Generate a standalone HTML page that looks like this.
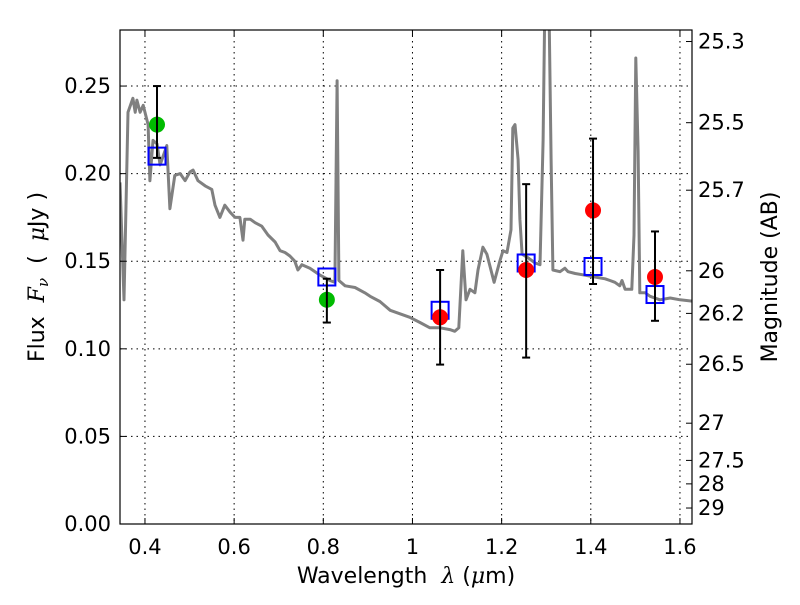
<!DOCTYPE html>
<html><head><meta charset="utf-8"><style>
body{margin:0;background:#fff}
svg text{font-family:"DejaVu Sans","Liberation Sans",sans-serif;fill:#000;white-space:pre}
</style></head><body>
<svg id="chart" width="800" height="600" xmlns="http://www.w3.org/2000/svg">
<rect width="800" height="600" fill="#fff"/>
<defs><clipPath id="clip"><rect x="120" y="30" width="572" height="494"/></clipPath></defs>
<g id="grid"></g>
<g id="spec" clip-path="url(#clip)"></g>
<g id="marks"></g>
<rect x="120" y="30" width="572" height="494" fill="none" stroke="#000" stroke-width="1.2"/>
<g id="axes"></g>
<text x="406" y="583" font-size="22" text-anchor="middle">Wavelength&#160;&#160;<tspan font-style="italic" font-family="DejaVu Serif, serif">λ</tspan> (<tspan font-style="italic" font-family="DejaVu Serif, serif">μ</tspan>m)</text>
<text transform="translate(44,277) rotate(-90)" font-size="22" text-anchor="middle">Flux&#160;&#160;<tspan font-style="italic" font-family="DejaVu Serif, serif">F<tspan font-size="15" dy="4">ν</tspan></tspan><tspan dy="-4">&#160;&#160;(&#160;&#160;</tspan><tspan font-style="italic" font-family="DejaVu Serif, serif">μ</tspan>Jy )</text>
<text transform="translate(777,277) rotate(-90)" font-size="22" text-anchor="middle">Magnitude (AB)</text>
</svg>
<script>
const xTicks=[0.4,0.6,0.8,1.0,1.2,1.4,1.6];
const xTickLabels=["0.4","0.6","0.8","1","1.2","1.4","1.6"];
const yTicks=[0,0.05,0.10,0.15,0.20,0.25];
const yTickLabels=["0.00","0.05","0.10","0.15","0.20","0.25"];
const magTicks=[25.3,25.5,25.7,26,26.2,26.5,27,27.5,28,29];
const specWave=[0.344,0.353,0.362,0.373,0.378,0.382,0.389,0.396,0.407,0.411,0.418,0.427,0.434,0.449,0.456,0.467,0.479,0.490,0.501,0.508,0.519,0.535,0.550,0.557,0.568,0.579,0.591,0.602,0.613,0.620,0.624,0.636,0.647,0.662,0.676,0.692,0.703,0.714,0.725,0.736,0.743,0.752,0.770,0.793,0.815,0.826,0.831,0.835,0.849,0.871,0.893,0.905,0.927,0.950,0.972,0.994,1.017,1.039,1.062,1.084,1.095,1.104,1.113,1.120,1.129,1.140,1.147,1.158,1.167,1.183,1.196,1.203,1.212,1.221,1.225,1.230,1.237,1.241,1.246,1.259,1.275,1.286,1.293,1.297,1.306,1.311,1.315,1.331,1.342,1.349,1.365,1.387,1.409,1.432,1.443,1.454,1.465,1.470,1.477,1.492,1.497,1.501,1.506,1.510,1.522,1.533,1.555,1.578,1.600,1.634];
const specFlux=[0.195,0.128,0.235,0.243,0.235,0.242,0.235,0.239,0.228,0.196,0.219,0.217,0.205,0.216,0.180,0.199,0.200,0.196,0.201,0.202,0.196,0.193,0.191,0.182,0.175,0.182,0.178,0.175,0.175,0.162,0.174,0.174,0.172,0.170,0.165,0.161,0.156,0.155,0.153,0.150,0.145,0.148,0.146,0.142,0.139,0.138,0.253,0.139,0.136,0.135,0.132,0.130,0.127,0.122,0.120,0.118,0.115,0.112,0.112,0.111,0.110,0.112,0.156,0.128,0.134,0.132,0.145,0.158,0.154,0.138,0.150,0.156,0.155,0.168,0.226,0.228,0.208,0.174,0.154,0.152,0.149,0.148,0.219,0.30,0.30,0.208,0.145,0.144,0.146,0.144,0.143,0.142,0.141,0.140,0.139,0.138,0.136,0.139,0.134,0.134,0.165,0.266,0.213,0.132,0.132,0.130,0.128,0.129,0.128,0.127];
const obsWave=[0.427,0.808,1.062,1.255,1.405,1.544];
const obsFlux=[0.228,0.128,0.118,0.145,0.179,0.141];
const obsLo=[0.209,0.115,0.091,0.095,0.137,0.116];
const obsHi=[0.250,0.140,0.145,0.194,0.220,0.167];
const obsColor=["#00bb00","#00bb00","#ff0000","#ff0000","#ff0000","#ff0000"];
const modelWave=[0.427,0.808,1.062,1.255,1.405,1.544];
const modelFlux=[0.210,0.141,0.122,0.149,0.147,0.131];

const X0=120,X1=692,Y0=524,Y1=30,xmin=0.344,xmax=1.627,ymin=0,ymax=0.282;
const sx=v=>X0+(v-xmin)/(xmax-xmin)*(X1-X0);
const sy=v=>Y0-(v-ymin)/(ymax-ymin)*(Y0-Y1);
const NS="http://www.w3.org/2000/svg";
function mk(tag,attrs,parent){const e=document.createElementNS(NS,tag);for(const k in attrs)e.setAttribute(k,attrs[k]);parent.appendChild(e);return e;}
const grid=document.getElementById('grid'),axes=document.getElementById('axes');
xTicks.forEach((t,i)=>{const x=sx(t);
 const g=mk('line',{x1:x,x2:x,y1:Y1,y2:Y0,stroke:'#000','stroke-dasharray':'1.5,4','stroke-width':1},grid);
 
 mk('line',{x1:x,x2:x,y1:Y0,y2:Y0-6,stroke:'#000'},axes);mk('line',{x1:x,x2:x,y1:Y1,y2:Y1+6,stroke:'#000'},axes);
 const tx=mk('text',{x:x,y:554,'font-size':21,'text-anchor':'middle'},axes);tx.textContent=xTickLabels[i];
 });
yTicks.forEach((t,i)=>{const y=sy(t);
 if(t>0){const g=mk('line',{x1:X0,x2:X1,y1:y,y2:y,stroke:'#000','stroke-dasharray':'1.5,4','stroke-width':1},grid);
 }
 mk('line',{x1:X0,x2:X0+6,y1:y,y2:y,stroke:'#000'},axes);
 const tx=mk('text',{x:111,y:y+7,'font-size':21,'text-anchor':'end'},axes);tx.textContent=yTickLabels[i];
 });
magTicks.forEach(m=>{const y=sy(Math.pow(10,(23.9-m)/2.5));
 mk('line',{x1:X1,x2:X1-6,y1:y,y2:y,stroke:'#000'},axes);
 const tx=mk('text',{x:698,y:y+7,'font-size':21},axes);tx.textContent=String(m);
 });
const spec=document.getElementById('spec');
const p=mk('polyline',{points:specWave.map((w,i)=>sx(w).toFixed(1)+','+sy(specFlux[i]).toFixed(1)).join(' '),fill:'none',stroke:'#808080','stroke-width':3,'stroke-linejoin':'round'},spec);

const marks=document.getElementById('marks');
modelWave.forEach((w,i)=>{const x=sx(w),y=sy(modelFlux[i]);
 const r=mk('rect',{x:x-8.5,y:y-8.5,width:17,height:17,fill:'none',stroke:'#0000ff','stroke-width':2},marks);
 });
obsWave.forEach((w,i)=>{const x=sx(w);
 const c=mk('circle',{cx:x,cy:sy(obsFlux[i]),r:8,fill:obsColor[i]},marks);
 
 const l=mk('line',{x1:x,x2:x,y1:sy(obsLo[i]),y2:sy(obsHi[i]),stroke:'#000','stroke-width':2},marks);
 
 [obsLo[i],obsHi[i]].forEach(v=>mk('line',{x1:x-4,x2:x+4,y1:sy(v),y2:sy(v),stroke:'#000','stroke-width':2},marks));});
</script>
</body></html>
